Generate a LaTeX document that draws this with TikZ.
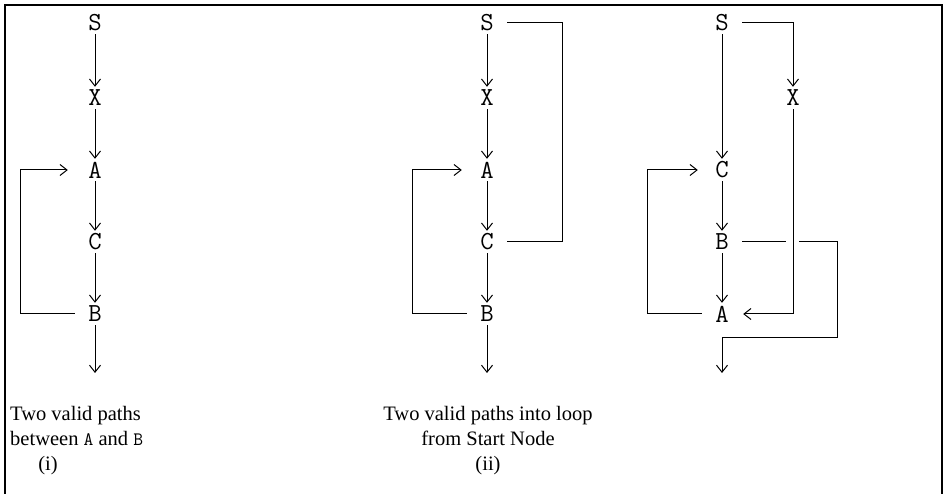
\documentclass[tikz,border=0pt]{standalone}
\usepackage{fontspec}
\setmainfont{Liberation Serif}
\usetikzlibrary{arrows.meta}
\begin{document}
\begin{tikzpicture}[x=1pt,y=-1pt,
  vx/.style={font=\ttfamily\fontsize{26}{26}\selectfont, inner sep=0pt, minimum width=40pt, minimum height=22pt},
  conn/.style={line width=1pt},
  arr/.style={conn, -{Straight Barb[length=7pt,width=11pt,line width=1pt]}},
  captxt/.style={font=\fontsize{20.5}{24}\selectfont, inner sep=0pt}]
\useasboundingbox (0,0) rectangle (946,494);
% frame
\draw[line width=1.3pt] (5,494) -- (5,5) -- (942,5) -- (942,494);

% ---------- panel (i)
\node[vx] (s1) at (95,23) {S};
\node[vx] (x1) at (95,98) {X};
\node[vx] (a1) at (95,170) {A};
\node[vx] (c1) at (95,242) {C};
\node[vx] (b1) at (95,314) {B};
\coordinate (e1) at (95,373);
\draw[arr] (s1) -- (x1);
\draw[arr] (x1) -- (a1);
\draw[arr] (a1) -- (c1);
\draw[arr] (c1) -- (b1);
\draw[arr] (b1) -- (e1);
\draw[arr, shorten >=7pt] (b1.west) -- ++(-54,0) |- (a1.west);

% ---------- panel (ii)
\node[vx] (s2) at (487,23) {S};
\node[vx] (x2) at (487,98) {X};
\node[vx] (a2) at (487,170) {A};
\node[vx] (c2) at (487,242) {C};
\node[vx] (b2) at (487,314) {B};
\coordinate (e2) at (487,373);
\draw[arr] (s2) -- (x2);
\draw[arr] (x2) -- (a2);
\draw[arr] (a2) -- (c2);
\draw[arr] (c2) -- (b2);
\draw[arr] (b2) -- (e2);
\draw[conn] (s2.east) -- ++(55,0) |- (c2.east);
\draw[arr, shorten >=5pt] (b2.west) -- ++(-54,0) |- (a2.west);

% ---------- panel (iii)
\node[vx] (s3) at (722,23) {S};
\node[vx] (x3) at (793,98) {X};
\node[vx] (c3) at (722,170) {C};
\node[vx] (b3) at (722,242) {B};
\node[vx] (a3) at (722,314) {A};
\coordinate (e3) at (722,373);
\coordinate (g1) at (786,242);
\coordinate (g2) at (799,242);
\coordinate (r3) at (837,242);
\coordinate (d3) at (722,338);
\draw[arr] (s3) -- (c3);
\draw[arr] (s3.east) -| (x3);
\draw[arr] (c3) -- (b3);
\draw[arr] (b3) -- (a3);
\draw[arr, shorten >=1pt] (x3) |- (a3.east);
\draw[arr, shorten >=4pt] (a3.west) -- ++(-54,0) |- (c3.west);
\draw[arr] (b3.east) -- (g1) (g2) -- (r3) |- (d3) -- (e3);

% ---------- captions
\node[captxt, anchor=base west] (t1) at (10,421) {Two valid paths};
\node[captxt, anchor=base west] (t2) at (10,446) {between {\ttfamily\fontsize{19}{19}\selectfont A} and {\ttfamily\fontsize{19}{19}\selectfont B}};
\node[captxt, anchor=base] (t3) at (48,471) {(i)};
\node[captxt, anchor=base] (u1) at (488,421) {Two valid paths into loop};
\node[captxt, anchor=base] (u2) at (488,446) {from Start Node};
\node[captxt, anchor=base] (u3) at (488,471) {(ii)};
\end{tikzpicture}
\end{document}
